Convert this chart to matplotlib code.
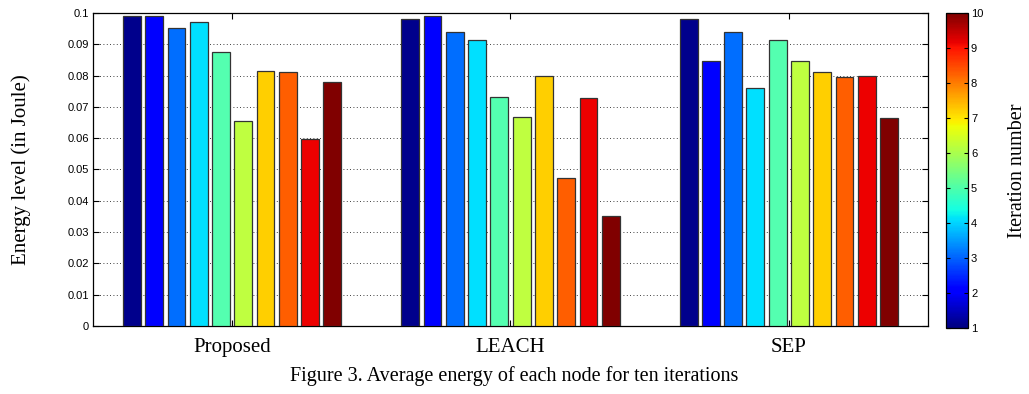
import numpy as np
import matplotlib
matplotlib.use("Agg")
from matplotlib import pyplot as plt
from matplotlib.axes import Axes

# energy left per node (Joule), one value per iteration
methods: list = ["Proposed", "LEACH", "SEP"]
iterations: list = list(range(1, 11))
proposed: list = [0.0989, 0.0991, 0.0952, 0.0970, 0.0874, 0.0656, 0.0816, 0.0812, 0.0598, 0.0779]
leach: list = [0.0982, 0.0989, 0.0938, 0.0914, 0.0731, 0.0668, 0.0800, 0.0473, 0.0728, 0.0352]
sep: list = [0.0980, 0.0847, 0.0940, 0.0761, 0.0914, 0.0847, 0.0812, 0.0797, 0.0800, 0.0664]
y_ticks: list = [0, 0.01, 0.02, 0.03, 0.04, 0.05, 0.06, 0.07, 0.08, 0.09, 0.1]
y_tick_labels: list = ["0", "0.01", "0.02", "0.03", "0.04", "0.05", "0.06", "0.07", "0.08", "0.09", "0.1"]

# MATLAB-ish jet colours picked for the ten iterations
BAR_COLORS: list = [(0.0, 0.0, 0.55), (0.0, 0.0, 1.0), (0.0, 0.43, 1.0), (0.0, 0.88, 1.0),
                    (0.33, 1.0, 0.69), (0.75, 1.0, 0.25), (1.0, 0.81, 0.0), (1.0, 0.37, 0.0),
                    (0.93, 0.0, 0.0), (0.5, 0.0, 0.0)]

SERIF = ["Liberation Serif", "DejaVu Serif"]
NARROW = ["Liberation Sans Narrow", "Liberation Sans", "DejaVu Sans"]

fig = plt.figure(figsize=(10.29, 3.94), dpi=100)
ax: Axes = fig.add_axes([0.0904, 0.1726, 0.8114, 0.7944])
cax: Axes = fig.add_axes([0.9195, 0.1675, 0.0214, 0.7995])

data = np.array([proposed, leach, sep])
GROUP = 0.8
step = GROUP / len(iterations)
x = np.arange(1, len(methods) + 1)
for i in range(len(iterations)):
    ax.bar(x + (i - (len(iterations) - 1) / 2) * step, data[:, i], width=step * 0.8,
           color=BAR_COLORS[i], edgecolor="#333333", linewidth=0.9, zorder=3)

ax.set_xlim(0.5, 3.5)
ax.set_ylim(0, 0.1)
ax.set_yticks(y_ticks)
ax.set_yticklabels(y_tick_labels, family=NARROW, fontsize=8)
ax.set_xticks(x)
ax.set_xticklabels(methods, family=SERIF, fontsize=15)
ax.tick_params(axis="y", direction="in", right=True, length=4, width=0.8, pad=3)
ax.tick_params(axis="x", direction="in", top=True, length=4, width=0.8, pad=9)
ax.yaxis.grid(True, linestyle=(0, (1, 3)), color="black", linewidth=0.6, zorder=0)
ax.set_axisbelow(True)
for s in ax.spines.values():
    s.set_linewidth(0.9)
ax.set_ylabel("Energy level (in Joule)", family=SERIF, fontsize=15, labelpad=26)

# colour bar for the iteration number
norm = matplotlib.colors.Normalize(vmin=1, vmax=10)
cb = fig.colorbar(matplotlib.cm.ScalarMappable(norm=norm, cmap="jet"), cax=cax)
cb.set_ticks(iterations)
cb.ax.tick_params(labelsize=8, direction="in", length=3, width=0.8, pad=2,
                  left=True, right=True)
for lab in cb.ax.get_yticklabels():
    lab.set_family(NARROW)
cb.outline.set_linewidth(0.9)
cb.set_label("Iteration number", family=SERIF, fontsize=14.5, labelpad=18)

fig.text(0.5, 0.045, "Figure 3. Average energy of each node for ten iterations",
         ha="center", va="center", family=SERIF, fontsize=14.5)

plt.savefig("out.png", dpi=100)
